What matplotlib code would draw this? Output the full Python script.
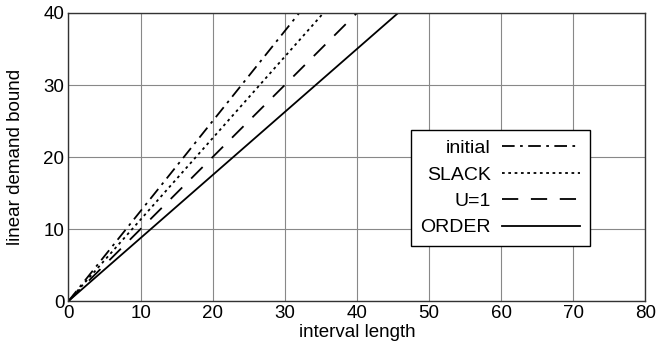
import matplotlib.pyplot as plt

plt.rcParams['font.family'] = ['Liberation Sans', 'DejaVu Sans']

x_end = [0, 80]
labels = ["initial", "SLACK", "U=1", "ORDER"]
# value of each bound at interval length 80 (lines start at origin)
y_end = [100, 90.5, 80, 70]
styles = [(0, (7, 3, 1.5, 3)), (0, (1.5, 2)), (0, (9, 7)), '-']

fig = plt.figure(figsize=(6.58, 3.43), dpi=100)
ax = fig.add_axes([0.1041, 0.1224, 0.8766, 0.8397])

for lab, ye, ls in zip(labels, y_end, styles):
    ax.plot(x_end, [0, ye], color='black', linestyle=ls, linewidth=1.3, label=lab)

ax.set_xlim(0, 80)
ax.set_ylim(0, 40)
ax.set_xticks(range(0, 81, 10))
ax.set_yticks(range(0, 41, 10))
ax.grid(color='#888888', linewidth=0.8)
ax.tick_params(length=0, labelsize=13.5, pad=3)
for s in ax.spines.values():
    s.set_linewidth(1.0)
    s.set_color('#333333')

ax.set_xlabel("interval length", fontsize=13.5, labelpad=1)
ax.set_ylabel("linear demand bound", fontsize=13.5, labelpad=14)

leg = ax.legend(loc='upper left', bbox_to_anchor=(0.593, 0.594), markerfirst=False,
                fontsize=14, fancybox=False, framealpha=1, edgecolor='black',
                handlelength=4.0, handletextpad=0.6, borderpad=0.5,
                labelspacing=0.45, borderaxespad=0)
leg.get_frame().set_linewidth(1.0)
for t in leg.get_texts():
    t.set_ha('right')

fig.savefig("out.png")
